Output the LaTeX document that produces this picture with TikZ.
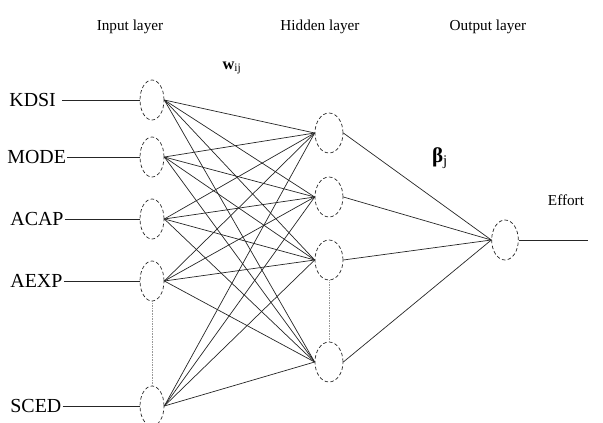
\documentclass[tikz,border=0pt]{standalone}
\usepackage{fontspec}
\setmainfont{Liberation Serif}
\usetikzlibrary{shapes.geometric, positioning}

\begin{document}
\begin{tikzpicture}[
  x=0.03cm, y=-0.03cm,
  neuron/.style={ellipse, draw=black!85, densely dashed, line width=0.6pt,
                 minimum width=0.72cm, minimum height=1.2cm, inner sep=0pt},
  hid/.style={neuron, minimum width=0.84cm},
  inlbl/.style={font=\fontsize{17}{19}\selectfont, inner sep=1pt, anchor=west},
  ttl/.style={font=\fontsize{13}{15}\selectfont},
  conn/.style={line width=0.6pt, black!85},
  gap/.style={densely dotted, gray!80},
]
  \useasboundingbox (0,0) rectangle (603,423);

  % layer titles
  \node[ttl] (tin)  at (130,27) {Input layer};
  \node[ttl] (thid) at (320,27) {Hidden layer};
  \node[ttl] (tout) at (488,27) {Output layer};

  % input layer
  \node[neuron] (i1) at (152,100) {};
  \node[neuron] (i2) at (152,157) {};
  \node[neuron] (i3) at (152,219) {};
  \node[neuron] (i4) at (152,281) {};
  \node[neuron] (i5) at (152,406) {};

  \node[inlbl] (kdsi) at (8,100) {KDSI};
  \node[inlbl] (mode) at (6,157) {MODE};
  \node[inlbl] (acap) at (9,219) {ACAP};
  \node[inlbl] (aexp) at (9,281) {AEXP};
  \node[inlbl] (sced) at (9,406) {SCED};

  \draw[conn] ([xshift=4pt]kdsi.east) -- (i1.west);
  \draw[conn] (mode.east) -- (i2.west);
  \draw[conn] (acap.east) -- (i3.west);
  \draw[conn] (aexp.east) -- (i4.west);
  \draw[conn] (sced.east) -- (i5.west);

  % hidden layer
  \node[hid] (h1) at (329,133) {};
  \node[hid] (h2) at (329,197) {};
  \node[hid] (h3) at (329,260) {};
  \node[hid] (h4) at (329,362) {};

  % output layer
  \node[neuron, minimum width=0.8cm] (o1) at (505,240) {};
  \coordinate (oend) at (588,240);
  \draw[conn] (o1.east) -- (oend);

  % weights
  \foreach \i in {1,...,5}
    \foreach \j in {1,...,4}
      \draw[conn] (i\i.east) -- (h\j.west);
  \foreach \j in {1,...,4}
    \draw[conn] (h\j.east) -- (o1.west);

  % omitted units
  \draw[gap] (i4.south) -- (i5.north);
  \draw[gap] (h3.south) -- (h4.north);

  % labels
  \node[font=\fontsize{14}{16}\selectfont] (wij) at (232,68) {\textbf{w}\textsubscript{ij}};
  \node[font=\fontsize{18}{20}\selectfont] (beta) at (440,158) {\textbf{β}\textsubscript{j}};
  \node[font=\fontsize{13}{15}\selectfont] (effort) at (566,200) {Effort};
\end{tikzpicture}
\end{document}
